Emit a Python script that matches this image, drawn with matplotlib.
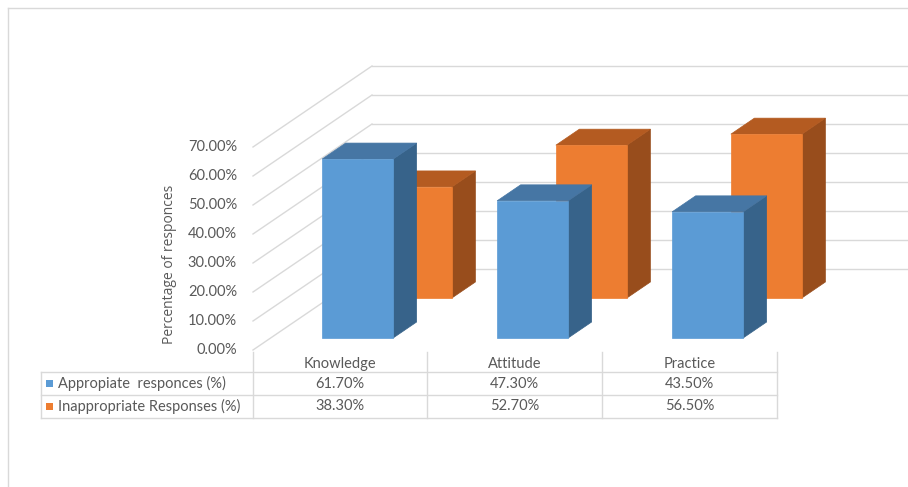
import matplotlib
matplotlib.use("Agg")
import matplotlib.pyplot as plt
from matplotlib.patches import Polygon, Rectangle
from matplotlib.lines import Line2D

# ---- data ----
categories = ["Knowledge", "Attitude", "Practice"]
series_names = ["Appropiate  responces (%)", "Inappropriate Responses (%)"]
appropriate = [61.7, 47.3, 43.5]
inappropriate = [38.3, 52.7, 56.5]
yticks = [0, 10, 20, 30, 40, 50, 60, 70]
ytick_labels = ["0.00%", "10.00%", "20.00%", "30.00%", "40.00%", "50.00%", "60.00%", "70.00%"]
ylabel = "Percentage of responces"

# ---- layout (pixel based) ----
W, H = 908, 487
CAT0_PX, PX_PER_CAT = 340.0, 175.0
Y0_PX, PX_PER_PCT = 350.0, 2.9
SLOPE = 1.469          # horizontal px per vertical px of depth
BAR_W = 71.0 / PX_PER_CAT
WALL_DEPTH = 81.0
DEPTHS = [(12.0, 28.0), (52.0, 68.0)]   # front/back depth of each series

front_cols = ["#5B9BD5", "#ED7D31"]
top_cols = ["#4676A4", "#B45B21"]
side_cols = ["#37638A", "#984D1C"]
grid_col = "#D9D9D9"
text_col = "#595959"
FONT = "Lato"

def px2x(px):
    return (px - CAT0_PX) / PX_PER_CAT

def py2y(py):
    return (Y0_PX - py) / PX_PER_PCT

def dx(d):
    return d * SLOPE / PX_PER_CAT

def dy(d):
    return d / PX_PER_PCT

def fx(px):
    return px / W

def fy(py):
    return 1 - py / H

fig = plt.figure(figsize=(W / 100, H / 100), dpi=100)
ax = fig.add_axes([0, 0, 1, 1])
ax.set_xlim(px2x(0), px2x(W))
ax.set_ylim(py2y(H), py2y(0))
ax.axis("off")

# outer border
fig.add_artist(Line2D([fx(8), fx(W + 5)], [fy(8), fy(8)], color=grid_col, lw=1))
fig.add_artist(Line2D([fx(8), fx(8)], [fy(8), fy(H + 5)], color=grid_col, lw=1))

# walls / gridlines
x_front = px2x(253)
for v in yticks:
    ax.plot([x_front, x_front + dx(WALL_DEPTH)], [v, v + dy(WALL_DEPTH)],
            color=grid_col, lw=1, zorder=1)
    ax.plot([x_front + dx(WALL_DEPTH), px2x(W + 5)], [v + dy(WALL_DEPTH)] * 2,
            color=grid_col, lw=1, zorder=1)

# bars (back series first)
for s in [1, 0]:
    vals = [appropriate, inappropriate][s]
    d0, d1 = DEPTHS[s]
    for i, v in enumerate(vals):
        xl = i - BAR_W / 2 + dx(d0)
        xr = i + BAR_W / 2 + dx(d0)
        yb = dy(d0)
        yt = v + dy(d0)
        ddx, ddy = dx(d1 - d0), dy(d1 - d0)
        z = 2 + (1 - s) * 2
        ax.add_patch(Polygon([(xr, yb), (xr + ddx, yb + ddy), (xr + ddx, yt + ddy), (xr, yt)],
                             closed=True, facecolor=side_cols[s], edgecolor=side_cols[s], lw=0.5, zorder=z))
        ax.add_patch(Polygon([(xl, yt), (xr, yt), (xr + ddx, yt + ddy), (xl + ddx, yt + ddy)],
                             closed=True, facecolor=top_cols[s], edgecolor=top_cols[s], lw=0.5, zorder=z))
        ax.add_patch(Rectangle((xl, yb), xr - xl, yt - yb, facecolor=front_cols[s],
                               edgecolor=front_cols[s], lw=0.5, zorder=z + 1))

# y tick labels
for v, lab in zip(yticks, ytick_labels):
    ax.text(px2x(237), v, lab, ha="right", va="center", fontsize=10.5,
            color=text_col, family=FONT, zorder=6)

ax.text(px2x(170), py2y(264), ylabel, rotation=90, ha="center", va="center",
        fontsize=10, color=text_col, family="Open Sans")

# data table
col_edges = [253, 427, 602, 777]
row_lines = [372, 395, 418]
tl = dict(color=grid_col, lw=1)
for x in col_edges:
    fig.add_artist(Line2D([fx(x), fx(x)], [fy(352), fy(418)], **tl))
fig.add_artist(Line2D([fx(41), fx(41)], [fy(372), fy(418)], **tl))
for y in row_lines:
    fig.add_artist(Line2D([fx(41), fx(777)], [fy(y), fy(y)], **tl))

tfont = dict(fontsize=10.5, color=text_col, family=FONT)
for j, cat in enumerate(categories):
    cx = (col_edges[j] + col_edges[j + 1]) / 2
    fig.text(fx(cx), fy(364), cat, ha="center", va="center", **tfont)
    fig.text(fx(cx), fy(383.5), f"{appropriate[j]:.2f}%", ha="center", va="center", **tfont)
    fig.text(fx(cx), fy(406.5), f"{inappropriate[j]:.2f}%", ha="center", va="center", **tfont)

for r, (name, col) in enumerate(zip(series_names, front_cols)):
    yc = 383.5 + 23 * r
    fig.add_artist(Rectangle((fx(46), fy(yc + 3.5)), 7 / W, 7 / H, facecolor=col,
                             edgecolor="none", transform=fig.transFigure))
    fig.text(fx(58), fy(yc), name, ha="left", va="center", **tfont)

fig.savefig("out.png", dpi=100, facecolor="white")
